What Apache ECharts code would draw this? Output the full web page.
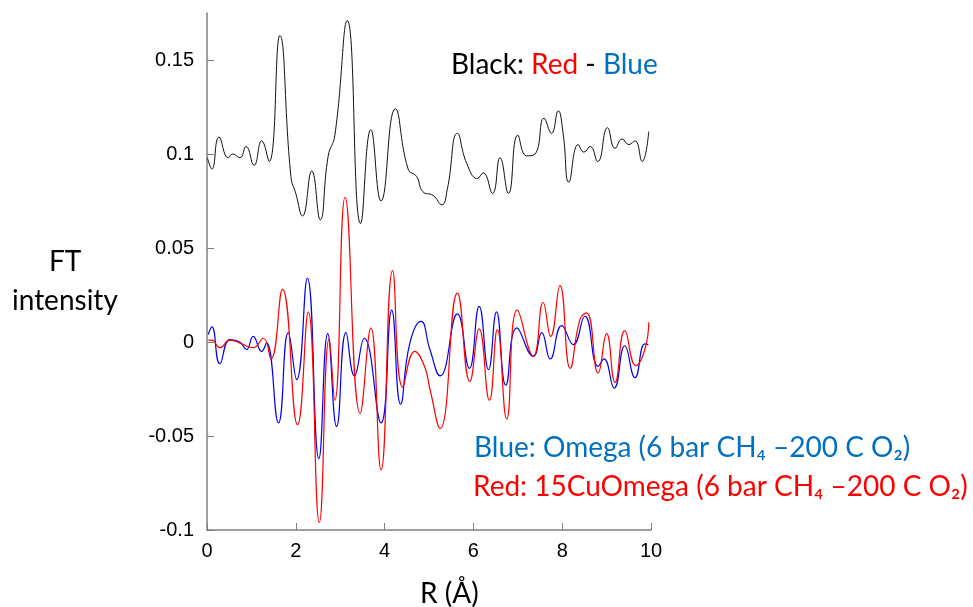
<!DOCTYPE html>
<html>
<head>
<meta charset="utf-8">
<script src="https://cdn.jsdelivr.net/npm/echarts@6/dist/echarts.min.js"></script>
<style>
  html, body { margin: 0; padding: 0; background: #fff; }
  #chart { width: 973px; height: 607px; }
</style>
</head>
<body>
<div id="chart"></div>
<script>
// values: [R (Å), FT intensity]
const blackPoints = [
  [0.01, 0.098], [0.11, 0.092], [0.27, 0.109], [0.48, 0.098], [0.58, 0.100],
  [0.74, 0.098], [0.88, 0.104], [1.06, 0.094], [1.23, 0.107], [1.40, 0.096],
  [1.64, 0.163], [1.89, 0.088], [2.00, 0.079], [2.15, 0.067], [2.36, 0.091],
  [2.55, 0.065], [2.73, 0.099], [2.88, 0.110], [3.16, 0.171], [3.46, 0.063],
  [3.69, 0.113], [3.92, 0.075], [4.24, 0.124], [4.53, 0.092], [4.72, 0.088],
  [4.86, 0.080], [5.09, 0.078], [5.29, 0.073], [5.41, 0.081], [5.64, 0.111],
  [5.85, 0.095], [6.09, 0.087], [6.22, 0.090], [6.43, 0.079], [6.60, 0.098],
  [6.79, 0.079], [7.00, 0.110], [7.20, 0.099], [7.39, 0.100], [7.59, 0.119],
  [7.76, 0.111], [7.91, 0.123], [8.02, 0.111], [8.15, 0.085], [8.36, 0.105],
  [8.49, 0.101], [8.63, 0.104], [8.80, 0.096], [9.02, 0.114], [9.19, 0.103],
  [9.35, 0.108], [9.50, 0.105], [9.64, 0.107], [9.80, 0.096], [9.95, 0.112]
];

const bluePoints = [
  [0.03, 0.004], [0.11, 0.008], [0.29, -0.0115], [0.52, 0.0013], [0.74, 0.000],
  [0.89, -0.004], [1.04, 0.003], [1.23, -0.005], [1.34, -0.0005], [1.61, -0.043],
  [1.83, 0.005], [2.02, -0.020], [2.26, 0.034], [2.52, -0.062], [2.72, 0.0045],
  [2.92, -0.045], [3.13, 0.005], [3.32, -0.018], [3.54, 0.002], [3.92, -0.043],
  [4.16, 0.017], [4.36, -0.033], [4.57, -0.0005], [4.82, 0.011], [5.02, -0.004],
  [5.25, -0.018], [5.64, 0.015], [5.91, -0.014], [6.13, 0.019], [6.34, -0.0147],
  [6.52, 0.016], [6.73, -0.023], [6.98, 0.0075], [7.35, -0.0076], [7.54, 0.005],
  [7.73, -0.009], [7.99, 0.0087], [8.25, -0.0014], [8.51, 0.0137], [8.81, -0.013],
  [8.94, -0.009], [9.17, -0.0245], [9.41, -0.002], [9.64, -0.019], [9.86, -0.001],
  [9.94, -0.0014]
];

const redPoints = [
  [0.03, 0.001], [0.11, 0.001], [0.29, -0.003], [0.52, 0.001], [0.78, -0.001],
  [1.04, -0.003], [1.27, 0.002], [1.44, -0.009], [1.70, 0.028], [2.04, -0.044],
  [2.28, 0.016], [2.53, -0.096], [2.75, 0.0017], [2.88, -0.031], [3.11, 0.077],
  [3.45, -0.038], [3.69, 0.0075], [3.92, -0.068], [4.18, 0.038], [4.41, -0.024],
  [4.68, -0.005], [4.90, -0.013], [5.02, -0.025], [5.25, -0.046], [5.64, 0.026],
  [5.92, -0.021], [6.13, 0.007], [6.36, -0.031], [6.54, 0.0066], [6.75, -0.041],
  [6.99, 0.017], [7.35, -0.0076], [7.57, 0.021], [7.74, 0.003], [7.95, 0.030],
  [8.18, -0.014], [8.40, 0.012], [8.55, 0.0155], [8.81, -0.0165], [9.00, 0.0045],
  [9.19, -0.0215], [9.41, 0.006], [9.66, -0.0126], [9.86, -0.004], [9.95, 0.0105]
];

const yTickValues = [-0.1, -0.05, 0, 0.05, 0.1, 0.15];
const xTickValues = [0, 2, 4, 6, 8, 10];

const axisGrey = "#808080";
const textFont = "Lato, 'Open Sans', sans-serif";
const tickFont = "'Liberation Sans', Arial, sans-serif";

const chart = echarts.init(document.getElementById("chart"), null, { renderer: "canvas" });

function lineSeries(name, points, color, width) {
  return {
    name: name,
    type: "line",
    data: points,
    smooth: 0.5,
    showSymbol: false,
    symbol: "none",
    animation: false,
    lineStyle: { color: color, width: width },
    emphasis: { disabled: true }
  };
}

function label(text, left, top, color) {
  return {
    type: "text",
    left: left,
    top: top,
    style: { text: text, fill: color, font: "28px " + textFont }
  };
}

chart.setOption({
  animation: false,
  backgroundColor: "#fff",
  grid: { left: 207, right: 322, top: 13, bottom: 77, containLabel: false },
  xAxis: {
    type: "value",
    min: 0,
    max: 10,
    interval: 2,
    axisLine: { onZero: false, lineStyle: { color: axisGrey, width: 1.5 } },
    axisTick: { inside: true, length: 7, lineStyle: { color: axisGrey } },
    axisLabel: {
      color: "#000",
      fontFamily: tickFont,
      fontSize: 20,
      margin: 11,
      customValues: xTickValues
    },
    splitLine: { show: false }
  },
  yAxis: {
    type: "value",
    min: -0.1,
    max: 0.175,
    interval: 0.05,
    axisLine: { show: true, onZero: false, lineStyle: { color: axisGrey, width: 1.5 } },
    axisTick: { show: true, inside: true, length: 7, lineStyle: { color: axisGrey }, customValues: yTickValues },
    axisLabel: {
      color: "#000",
      fontFamily: tickFont,
      fontSize: 20,
      margin: 13,
      customValues: yTickValues,
      formatter: (v) => String(Math.round(v * 1000) / 1000)
    },
    splitLine: { show: false }
  },
  graphic: [
    label("FT", 49, 248, "#000"),
    label("intensity", 12, 287, "#000"),
    label("R (Å)", 420, 580, "#000"),
    {
      type: "text",
      left: 451,
      top: 51,
      style: {
        text: "{k|Black: }{r|Red}{k| - }{b|Blue}",
        rich: {
          k: { fill: "#000", font: "28px " + textFont },
          r: { fill: "#ff0000", font: "28px " + textFont },
          b: { fill: "#0070c0", font: "28px " + textFont }
        }
      }
    },
    label("Blue: Omega (6 bar CH\u2084 \u2013200 C O\u2082)", 474, 434, "#0070c0"),
    label("Red: 15CuOmega (6 bar CH\u2084 \u2013200 C O\u2082)", 473, 473, "#ff0000")
  ],
  series: [
    lineSeries("Black", blackPoints, "#111111", 1),
    lineSeries("Blue", bluePoints, "#0000ee", 1.2),
    lineSeries("Red", redPoints, "#ff0000", 1.2)
  ]
});
</script>
</body>
</html>
